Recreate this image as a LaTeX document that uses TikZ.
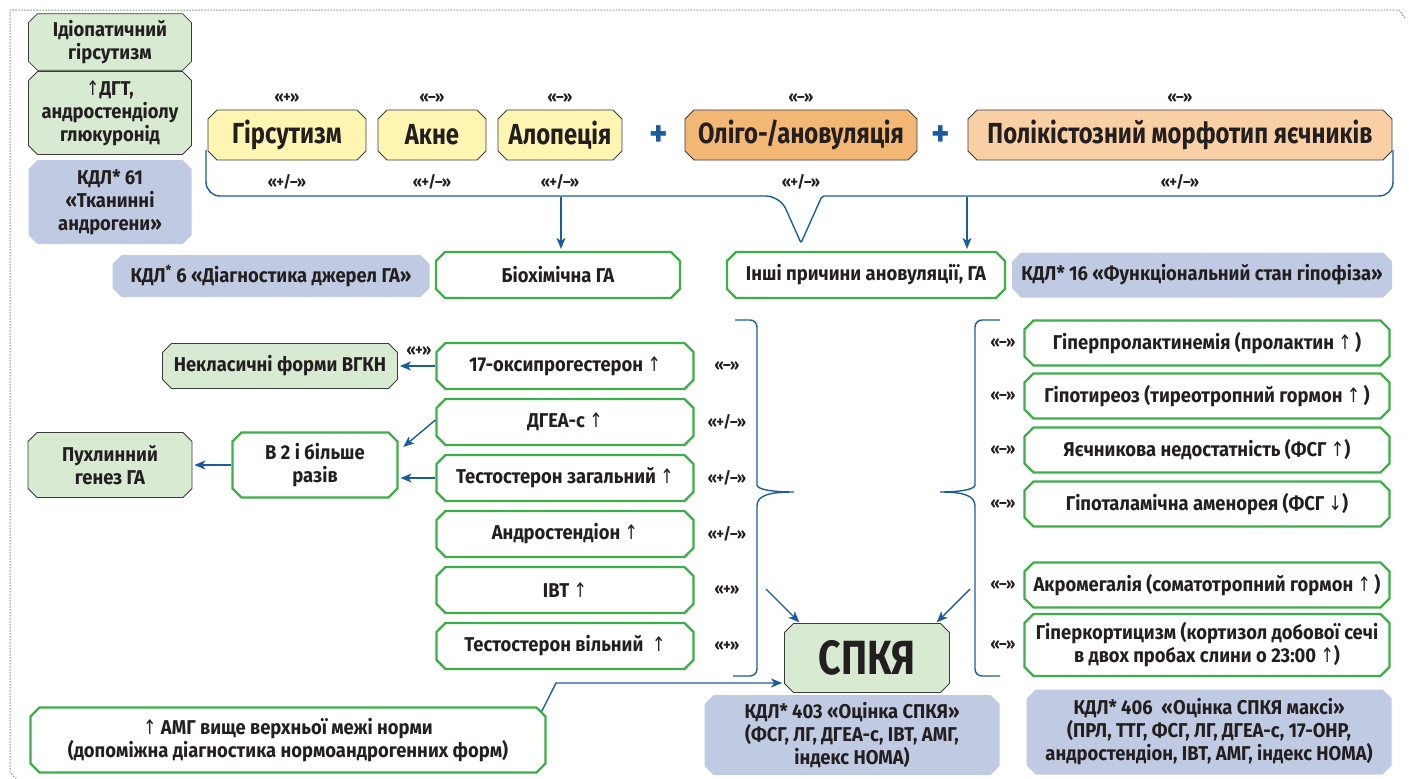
\documentclass[tikz,border=0pt]{standalone}
\usepackage{fontspec}
\setmainfont{Fira Sans}[FakeStretch=0.92]
\newfontfamily\condfont{Fira Sans}[FakeStretch=0.82]
\newfontfamily\arrfont{DejaVu Sans}[FakeStretch=0.8]
\usepackage{xcolor}
\usepackage{tikz}
\usetikzlibrary{shapes.misc}
\usetikzlibrary{arrows.meta}
\usetikzlibrary{positioning}
\newcommand{\ua}{{\arrfont\mdseries ↑}}
\newcommand{\da}{{\arrfont\mdseries ↓}}

\definecolor{gline}{HTML}{3DAE49}
\definecolor{gfill}{HTML}{D9EAD3}
\definecolor{bfill}{HTML}{C0CBE3}
\definecolor{yfill}{HTML}{FEF5B3}
\definecolor{ofill}{HTML}{F2B675}
\definecolor{lofill}{HTML}{F9D0A5}
\definecolor{arrc}{HTML}{1B5C9C}
\definecolor{dline}{HTML}{3A3A3A}
\definecolor{ink}{HTML}{231F20}

\begin{document}
\begin{tikzpicture}[x=1pt, y=-1pt,
    every node/.style={font=\bfseries\fontsize{20}{23}\selectfont, align=center,
      inner sep=2pt, text=ink},
    cbox/.style={chamfered rectangle, chamfered rectangle xsep=4.5pt,
      chamfered rectangle ysep=4.5pt},
    gbox/.style={cbox, draw=dline, line width=0.8pt, fill=gfill},
    sbox/.style={cbox, draw=dline, line width=0.8pt, minimum height=50,
      font=\condfont\bfseries\fontsize{29}{30}\selectfont},
    wbox/.style={cbox, draw=gline, line width=2.2pt, fill=white},
    kbox/.style={cbox, fill=bfill},
    sign/.style={font=\bfseries\fontsize{16}{16}\selectfont},
    plus/.style={text=arrc, font=\bfseries\fontsize{38}{38}\selectfont},
    arr/.style={draw=arrc, line width=1.4pt, shorten >=2pt,
      -{Stealth[length=11pt, width=9pt, inset=3pt]}},
    brc/.style={draw=arrc, line width=1.4pt}
  ]
  \useasboundingbox (0,0) rectangle (1409,779);
  \draw[black!45, line width=1pt, dash pattern=on 1.5pt off 1.5pt]
    (1405,18) -- (1399,10) -- (10,10) -- (10,772) -- (16,779);

  % tissue androgens
  \node[gbox, minimum width=163, minimum height=49] (idio) at (110,42) {Ідіопатичний\\гірсутизм};
  \node[gbox, minimum width=163, minimum height=83] (dgt) at (110,113) {\ua ДГТ,\\андростендіолу\\глюкуронід};
  \node[kbox, minimum width=163, minimum height=84] (kdl61) at (110,202) {КДЛ* 61\\«Тканинні\\андрогени»};

  % symptoms
  \node[sbox, fill=yfill, minimum width=158] (hirs) at (287,135) {Гірсутизм};
  \node[sbox, fill=yfill, minimum width=108] (akne) at (432,135) {Акне};
  \node[sbox, fill=yfill, minimum width=124] (alop) at (560,135) {Алопеція};
  \node[plus] (p1) at (659,136) {+};
  \node[sbox, fill=ofill, minimum width=232] (olig) at (801,135) {Оліго-/ановуляція};
  \node[plus] (p2) at (941,136) {+};
  \node[sbox, fill=lofill, minimum width=424] (pcos) at (1180,135) {Полікістозний морфотип яєчників};

  \foreach \n/\t in {hirs/{«+»}, akne/{«–»}, alop/{«–»}, olig/{«–»}, pcos/{«–»}}
    \node[sign, above=5pt of \n] (up-\n) {\t};
  \foreach \n in {hirs, akne, alop, olig, pcos}
    \node[sign, below=12pt of \n] (dn-\n) {«+/–»};

  \draw[brc, rounded corners=14pt] (206,150) -- (206,196) -- (780,196)
    [rounded corners=2pt] -- (801,243) -- (822,196)
    [rounded corners=14pt] -- (1393,196) -- (1393,150);

  % second row
  \node[kbox, minimum width=317, minimum height=42] (kdl6) at (271,276) {КДЛ\textsuperscript{*} 6 «Діагностика джерел ГА»};
  \node[wbox, minimum width=244, minimum height=46] (bioh) at (558,275) {Біохімічна ГА};
  \node[wbox, minimum width=278, minimum height=46] (inshi) at (866,275) {Інші причини ановуляції, ГА};
  \node[kbox, minimum width=380, minimum height=45] (kdl16) at (1202,275) {КДЛ* 16 «Функціональний стан гіпофіза»};

  \coordinate (b1) at (561,197);
  \coordinate (b2) at (967,197);
  \draw[arr] (b1) -- (b1 |- bioh.north);
  \draw[arr] (b2) -- (b2 |- inshi.north);

  % androgens
  \foreach \n/\t/\s/\y in {ohp/{17-оксипрогестерон \ua}/{«–»}/366,
      dhea/{ДГЕА-с \ua}/{«+/–»}/422,
      tz/{Тестостерон загальний \ua}/{«+/–»}/478,
      andr/{Андростендіон \ua}/{«+/–»}/534,
      ivt/{ІВТ \ua}/{«+»}/590,
      tv/{Тестостерон вільний \ \ua}/{«+»}/646} {
    \node[wbox, minimum width=257, minimum height=46] (\n) at (565,\y) {\t};
    \node[sign] (s-\n) at (727,\y) {\s};
  }

  % other causes
  \foreach \n/\t/\y in {gpr/{Гіперпролактинемія (пролактин \ua\,)}/343,
      gpt/{Гіпотиреоз (тиреотропний гормон \ua\,)}/396,
      yen/{Яєчникова недостатність (ФСГ \ua)}/450,
      gpa/{Гіпоталамічна аменорея (ФСГ \da)}/504,
      akr/{Акромегалія (соматотропний гормон \ua\,)}/585} {
    \node[wbox, minimum width=365, minimum height=45] (\n) at (1207,\y) {\t};
    \node[sign] (s-\n) at (1003,\y) {«–»};
  }
  \node[wbox, minimum width=365, minimum height=62] (gkr) at (1207,645) {Гіперкортицизм (кортизол добової сечі\\в двох пробах слини о 23:00 \ua)};
  \node[sign] (s-gkr) at (1003,645) {«–»};

  % braces
  \draw[brc] (735,320) [rounded corners=7pt] -- (757,320) -- (757,478) [sharp corners]
    .. controls (757,489) and (770,492) .. (794,492)
    .. controls (770,492) and (757,495) .. (757,506)
    [rounded corners=7pt] -- (757,676) -- (733,676);
  \draw[brc] (1000,320) [rounded corners=7pt] -- (975,320) -- (975,478) [sharp corners]
    .. controls (975,489) and (962,492) .. (940,492)
    .. controls (962,492) and (975,495) .. (975,506)
    [rounded corners=7pt] -- (975,676) -- (1000,676);

  % left side
  \node[gbox, minimum width=235, minimum height=45] (vgkn) at (280,366) {Некласичні форми ВГКН};
  \node[wbox, minimum width=165, minimum height=65] (v2) at (315,465) {В 2 і більше\\разів};
  \node[gbox, minimum width=164, minimum height=65] (pukh) at (110,465) {Пухлинний\\генез ГА};
  \node[sign] (s-vgkn) at (419,351) {«+»};

  \draw[arr] (ohp.west) -- (vgkn.east);
  \draw[arr] ([yshift=2pt]dhea.west) -- ([xshift=8pt,yshift=-12pt]v2.north east);
  \draw[arr] (tz.west) -- (v2.east |- tz.west);
  \draw[arr] (v2.west) -- (pukh.east);

  % PCOS
  \node[kbox, minimum width=295, minimum height=80] (kdl403) at (852,735) {КДЛ* 403 «Оцінка СПКЯ»\\(ФСГ, ЛГ, ДГЕА-с, ІВТ, АМГ,\\індекс НОМА)};
  \node[gbox, minimum width=165, minimum height=69, font=\condfont\bfseries\fontsize{48}{48}\selectfont] (spk) at (867,658) {СПКЯ};
  \node[kbox, minimum width=365, minimum height=85] (kdl406) at (1209,732) {КДЛ* 406 \ «Оцінка СПКЯ максі»\\(ПРЛ, ТТГ, ФСГ, ЛГ, ДГЕА-с, 17-ОНР,\\андростендіон, ІВТ, АМГ, індекс НОМА)};
  \node[wbox, minimum width=515, minimum height=65] (amg) at (288,740) {\ua\ АМГ вище верхньої межі норми\\(допоміжна діагностика нормоандрогенних форм)};

  \coordinate (lin) at (766,589);
  \coordinate (rin) at (970,589);
  \coordinate (amgb) at (556,683);
  \draw[arr] (lin) -- ([xshift=12pt,yshift=4pt]spk.north west);
  \draw[arr] (rin) -- ([xshift=-10pt,yshift=4pt]spk.north east);
  \draw[arr] (amg.north east) -- (amgb) -- (spk.west |- amgb);
\end{tikzpicture}
\end{document}
